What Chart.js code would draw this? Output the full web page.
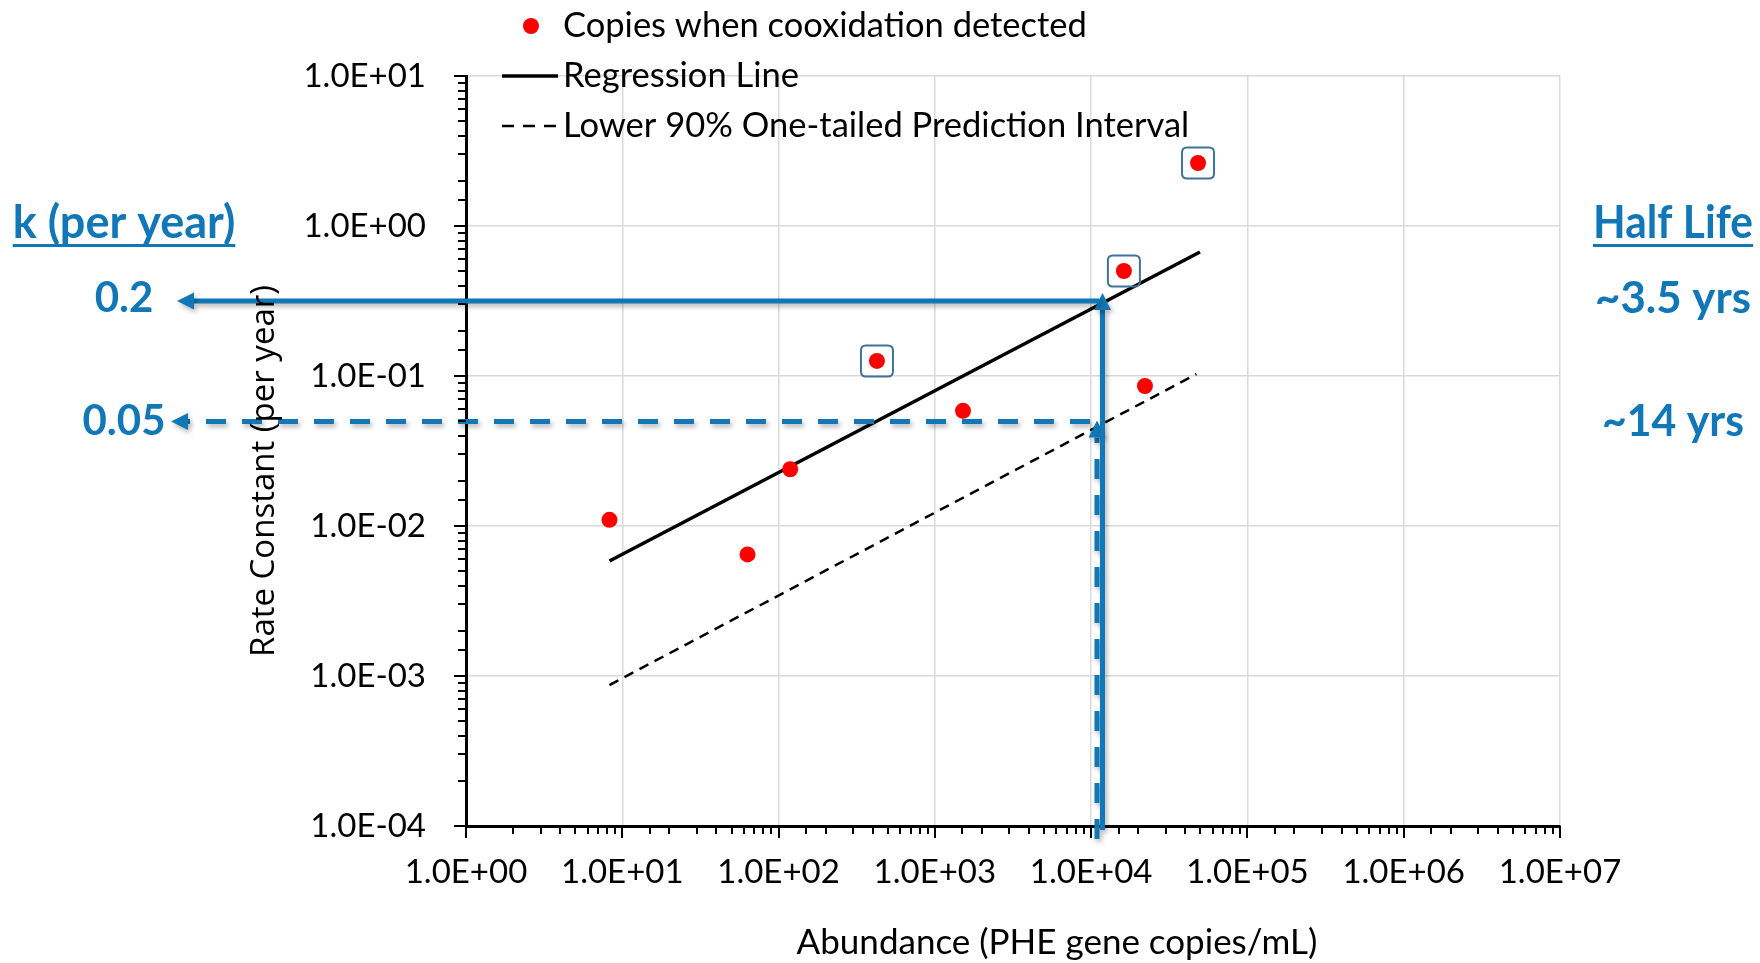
<!DOCTYPE html>
<html><head><meta charset="utf-8">
<script src="https://cdn.jsdelivr.net/npm/chart.js@4.4.0/dist/chart.umd.min.js"></script>
<style>html,body{margin:0;padding:0;background:#fff;overflow:hidden}#wrap{width:1760px;height:963px;position:relative}</style>
</head><body><div id="wrap"><canvas id="c" width="1760" height="963"></canvas></div>
<script>
// ---- data ----
const abundance    = [8.28, 63.3, 118.7, 426, 1514, 16200, 22100, 48300];
const rateConstant = [0.0110, 0.00646, 0.0239, 0.126, 0.0586, 0.501, 0.0858, 2.63];
const boxedPoint   = [false, false, false, true, false, true, false, true];
const regressionX  = [8.28, 49700];
const regressionY  = [0.00585, 0.671];
const lowerPIX     = [8.28, 47200];
const lowerPIY     = [0.00087, 0.103];
const xTickLabels  = ['1.0E+00','1.0E+01','1.0E+02','1.0E+03','1.0E+04','1.0E+05','1.0E+06','1.0E+07'];
const yTickLabels  = ['1.0E-04','1.0E-03','1.0E-02','1.0E-01','1.0E+00','1.0E+01'];
const guideRates     = [0.316, 0.0497];   // solid, dashed horizontal guides (per year)
const guideAbundance = [11820, 10900];    // solid, dashed vertical guides
const kLabels        = ['0.2', '0.05'];
const halfLifeLabels = ['~3.5 yrs', '~14 yrs'];
const seriesLabels   = ['Copies when cooxidation detected', 'Regression Line', 'Lower 90% One-tailed Prediction Interval'];
const xTitle = 'Abundance (PHE gene copies/mL)';
const yTitle = 'Rate Constant (per year)';

const BLUE = '#1177B6';
const isPow10 = v => v > 0 && Math.abs(Math.log10(v) - Math.round(Math.log10(v))) < 1e-9;

function arrow(ctx, x0, y0, x1, y1, dashed) {
  const dx = x1 - x0, dy = y1 - y0, L = Math.hypot(dx, dy), ux = dx / L, uy = dy / L;
  const head = 17, half = 8.5;
  const bx = x1 - ux * head, by = y1 - uy * head;
  ctx.save();
  ctx.shadowColor = 'rgba(0,0,0,0.30)'; ctx.shadowBlur = 5; ctx.shadowOffsetX = 2; ctx.shadowOffsetY = 3;
  ctx.strokeStyle = BLUE; ctx.fillStyle = BLUE; ctx.lineWidth = 5; ctx.lineCap = 'butt';
  ctx.setLineDash(dashed ? [20, 16] : []);
  ctx.beginPath(); ctx.moveTo(x0, y0); ctx.lineTo(bx, by); ctx.stroke();
  ctx.setLineDash([]);
  ctx.beginPath(); ctx.moveTo(x1, y1);
  ctx.lineTo(bx - uy * half, by + ux * half); ctx.lineTo(bx + uy * half, by - ux * half);
  ctx.closePath(); ctx.fill();
  ctx.restore();
}

function roundRect(ctx, x, y, w, h, r) {
  ctx.beginPath();
  ctx.moveTo(x + r, y); ctx.lineTo(x + w - r, y); ctx.quadraticCurveTo(x + w, y, x + w, y + r);
  ctx.lineTo(x + w, y + h - r); ctx.quadraticCurveTo(x + w, y + h, x + w - r, y + h);
  ctx.lineTo(x + r, y + h); ctx.quadraticCurveTo(x, y + h, x, y + h - r);
  ctx.lineTo(x, y + r); ctx.quadraticCurveTo(x, y, x + r, y); ctx.closePath();
}

// centred text squeezed horizontally to a given width
function fitText(ctx, t, cx, y, w) {
  const m = ctx.measureText(t).width;
  const s = Math.min(1, w / m);
  ctx.save(); ctx.translate(cx, y); ctx.scale(s, 1); ctx.textAlign = 'center';
  ctx.fillText(t, 0, 0); ctx.restore();
  return m * s;
}

const annot = {
  id: 'annot',
  afterDatasetsDraw(chart) {
    const ctx = chart.ctx, xs = chart.scales.x, ys = chart.scales.y, area = chart.chartArea;
    const meta = chart.getDatasetMeta(0);
    ctx.save();
    ctx.strokeStyle = '#41719C'; ctx.lineWidth = 2;
    meta.data.forEach((p, i) => {
      if (!boxedPoint[i]) return;
      roundRect(ctx, p.x - 16, p.y - 15.5, 32, 31, 5); ctx.stroke();
    });
    ctx.restore();
    const hy0 = ys.getPixelForValue(guideRates[0]);
    const hy1 = ys.getPixelForValue(guideRates[1]);
    const vx0 = xs.getPixelForValue(guideAbundance[0]);
    const vx1 = xs.getPixelForValue(guideAbundance[1]);
    arrow(ctx, vx1, area.bottom + 13, vx1, hy1 - 1, true);
    arrow(ctx, vx1 - 7, hy1, 171, hy1, true);
    arrow(ctx, vx0, area.bottom + 4, vx0, hy0 - 8, false);
    arrow(ctx, vx0 - 3, hy0, 177, hy0, false);
  },
  afterDraw(chart) {
    const ctx = chart.ctx, xs = chart.scales.x, ys = chart.scales.y, area = chart.chartArea;
    ctx.save();
    ctx.strokeStyle = '#000'; ctx.lineWidth = 2;
    xs.ticks.forEach(t => {
      const px = Math.round(xs.getPixelForValue(t.value));
      const len = isPow10(t.value) ? 12 : 8;
      ctx.beginPath(); ctx.moveTo(px, area.bottom); ctx.lineTo(px, area.bottom + len); ctx.stroke();
    });
    ys.ticks.forEach(t => {
      const py = Math.round(ys.getPixelForValue(t.value));
      const len = isPow10(t.value) ? 12 : 8;
      ctx.beginPath(); ctx.moveTo(area.left, py); ctx.lineTo(area.left - len, py); ctx.stroke();
    });
    // axis titles
    ctx.fillStyle = '#000';
    ctx.font = '35px Lato';
    ctx.textAlign = 'center'; ctx.textBaseline = 'middle';
    ctx.fillText(xTitle, 1057, 943);
    ctx.save();
    ctx.translate(265, 471); ctx.rotate(-Math.PI / 2);
    ctx.font = '33px "Open Sans"';
    ctx.fillText(yTitle, 0, 0);
    ctx.restore();
    // legend
    const ds = chart.data.datasets;
    ctx.textAlign = 'left'; ctx.textBaseline = 'alphabetic';
    ctx.font = '34.5px Lato';
    ctx.fillStyle = ds[0].backgroundColor;
    ctx.beginPath(); ctx.arc(531, 26, 8, 0, Math.PI * 2); ctx.fill();
    ctx.strokeStyle = '#000';
    ctx.lineWidth = 3.5; ctx.beginPath(); ctx.moveTo(502, 76); ctx.lineTo(558, 76); ctx.stroke();
    ctx.lineWidth = 2.5; ctx.setLineDash([12, 9]); ctx.beginPath(); ctx.moveTo(502, 126); ctx.lineTo(560, 126); ctx.stroke();
    ctx.setLineDash([]);
    ctx.fillStyle = '#000';
    ds.forEach((d, i) => ctx.fillText(d.label, 563, 37 + i * 50));
    // blue side labels
    ctx.fillStyle = BLUE; ctx.textAlign = 'center';
    ctx.font = 'bold 45px Lato';
    let w = fitText(ctx, 'k (per year)', 124, 238, 228);
    ctx.fillRect(124 - w / 2, 244, w, 3);
    w = fitText(ctx, 'Half Life', 1673, 238, 160);
    ctx.fillRect(1673 - w / 2, 244, w, 3);
    ctx.font = 'bold 42px Lato';
    fitText(ctx, kLabels[0], 124, 312, 60);
    fitText(ctx, kLabels[1], 124, 435, 86);
    ctx.font = 'bold 44px Lato';
    fitText(ctx, halfLifeLabels[0], 1673, 313, 156);
    fitText(ctx, halfLifeLabels[1], 1673, 436, 142);
    ctx.restore();
  }
};

const tickFont = { family: 'Lato', size: 33 };

new Chart(document.getElementById('c'), {
  type: 'scatter',
  data: {
    datasets: [
      { label: seriesLabels[0], data: abundance.map((x, i) => ({ x, y: rateConstant[i] })),
        backgroundColor: '#FF0000', borderColor: '#FF0000', borderWidth: 0, pointRadius: 8, pointHoverRadius: 8 },
      { label: seriesLabels[1], data: regressionX.map((x, i) => ({ x, y: regressionY[i] })),
        showLine: true, borderColor: '#000', borderWidth: 3.5, pointRadius: 0, fill: false },
      { label: seriesLabels[2], data: lowerPIX.map((x, i) => ({ x, y: lowerPIY[i] })),
        showLine: true, borderColor: '#000', borderWidth: 2.5, borderDash: [10, 7], pointRadius: 0, fill: false }
    ]
  },
  options: {
    responsive: false, animation: false, devicePixelRatio: 1,
    layout: { padding: { left: 300, right: 200, top: 76, bottom: 0 } },
    plugins: { legend: { display: false }, tooltip: { enabled: false } },
    scales: {
      x: {
        type: 'logarithmic', min: 1, max: 1e7,
        afterFit(s) { s.height = 137; },
        border: { display: true, color: '#000', width: 3 },
        grid: { drawTicks: false, color: c => (c.tick && isPow10(c.tick.value)) ? '#D9D9D9' : 'rgba(0,0,0,0)', lineWidth: 1.5 },
        ticks: { autoSkip: false, maxRotation: 0, minRotation: 0, padding: 27, color: '#000', font: tickFont,
          callback: v => isPow10(v) ? xTickLabels[Math.round(Math.log10(v))] : '' }
      },
      y: {
        type: 'logarithmic', min: 1e-4, max: 10,
        afterFit(s) { s.width = 166; },
        border: { display: true, color: '#000', width: 3 },
        grid: { drawTicks: false, color: c => (c.tick && isPow10(c.tick.value)) ? '#D9D9D9' : 'rgba(0,0,0,0)', lineWidth: 1.5 },
        ticks: { autoSkip: false, padding: 40, color: '#000', font: tickFont,
          callback: v => isPow10(v) ? yTickLabels[Math.round(Math.log10(v)) + 4] : '' }
      }
    }
  },
  plugins: [annot]
});
</script></body></html>
